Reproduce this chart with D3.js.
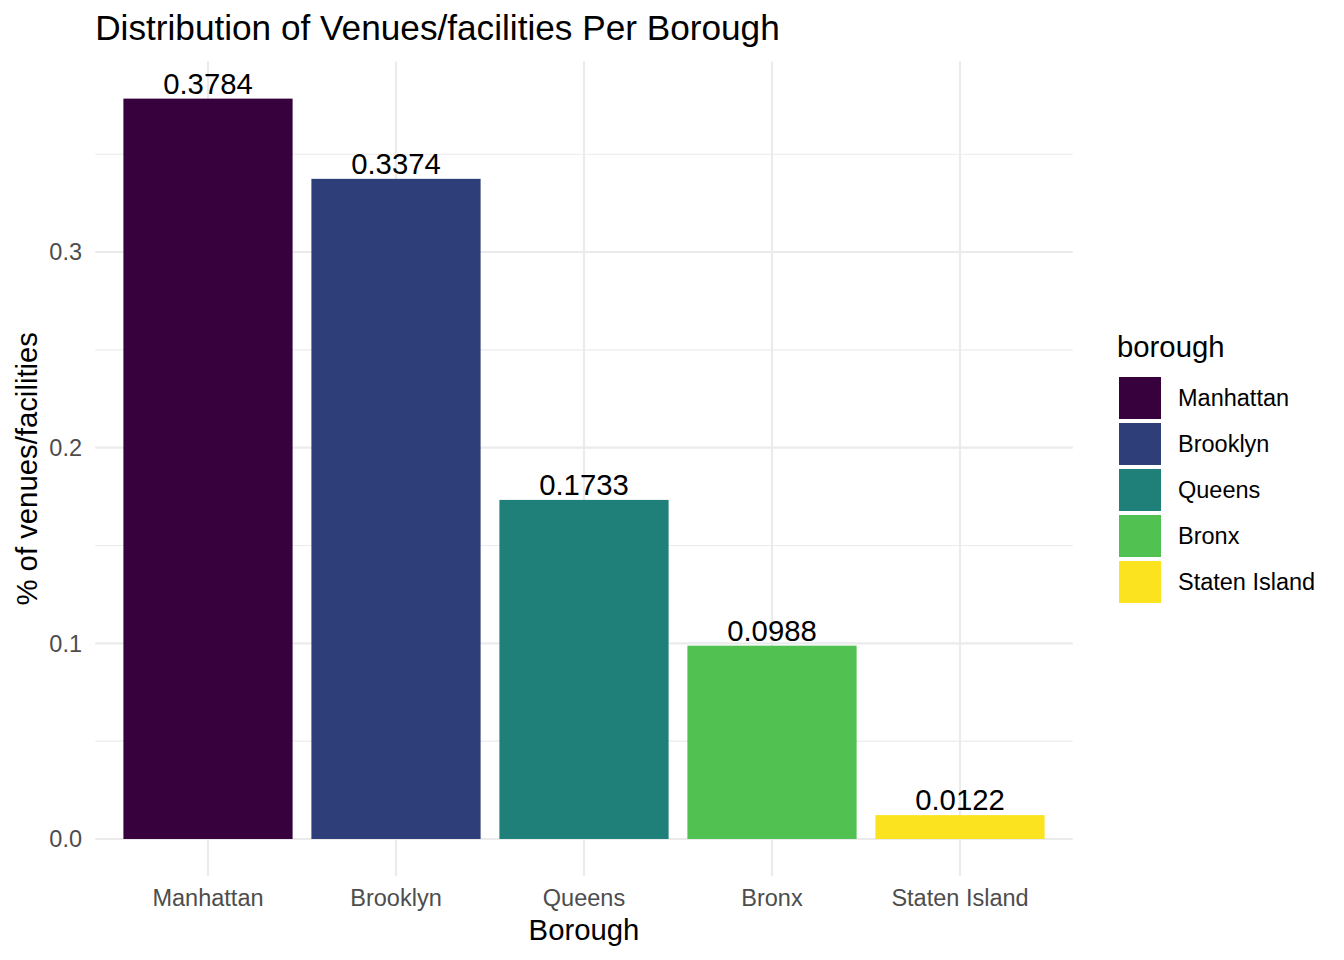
<!DOCTYPE html>
<html>
<head>
<meta charset="utf-8">
<script src="https://cdn.jsdelivr.net/npm/d3@7"></script>
<style>
  html, body { margin: 0; padding: 0; background: #fff; }
  svg { display: block; font-family: "Liberation Sans", Arial, Helvetica, sans-serif; }
</style>
</head>
<body>
<svg id="chart" width="1344" height="960"></svg>
<script>
const categories = ["Manhattan", "Brooklyn", "Queens", "Bronx", "Staten Island"];
const values = [0.3784, 0.3374, 0.1733, 0.0988, 0.0122];
const colors = ["#36013c", "#2e3e78", "#1f807a", "#51c152", "#fce31f"];
const yMajorTicks = [0.0, 0.1, 0.2, 0.3];
const yMinorTicks = [0.05, 0.15, 0.25, 0.35];
const yTickLabels = ["0.0", "0.1", "0.2", "0.3"];

const svg = d3.select("#chart");
const panel = { left: 95.2, right: 1072.8, top: 61.6, bottom: 876 };

const maxV = d3.max(values);
const x = d3.scaleBand().domain(categories)
  .range([panel.left, panel.right]).paddingInner(0.1).paddingOuter(0.15);
const y = d3.scaleLinear().domain([-0.05 * maxV, maxV * 1.05])
  .range([panel.bottom, panel.top]);

const grid = svg.append("g");
grid.selectAll("line.minor").data(yMinorTicks).enter().append("line")
  .attr("x1", panel.left).attr("x2", panel.right)
  .attr("y1", d => y(d)).attr("y2", d => y(d))
  .attr("stroke", "#ebebeb").attr("stroke-width", 1.1);
grid.selectAll("line.major").data(yMajorTicks).enter().append("line")
  .attr("x1", panel.left).attr("x2", panel.right)
  .attr("y1", d => y(d)).attr("y2", d => y(d))
  .attr("stroke", "#ebebeb").attr("stroke-width", 2.2);
grid.selectAll("line.v").data(categories).enter().append("line")
  .attr("y1", panel.top).attr("y2", panel.bottom)
  .attr("x1", d => x(d) + x.bandwidth() / 2).attr("x2", d => x(d) + x.bandwidth() / 2)
  .attr("stroke", "#ebebeb").attr("stroke-width", 2.2);

svg.append("g").selectAll("rect").data(categories).enter().append("rect")
  .attr("x", d => x(d)).attr("width", x.bandwidth())
  .attr("y", (d, i) => y(values[i]))
  .attr("height", (d, i) => y(0) - y(values[i]))
  .attr("fill", (d, i) => colors[i]);

svg.append("g").selectAll("text").data(categories).enter().append("text")
  .attr("x", d => x(d) + x.bandwidth() / 2)
  .attr("y", (d, i) => y(values[i]) - 5)
  .attr("text-anchor", "middle")
  .attr("font-size", 29.3)
  .attr("fill", "#000")
  .text((d, i) => values[i].toFixed(4));

svg.append("g").selectAll("text").data(yMajorTicks).enter().append("text")
  .attr("x", 82).attr("y", d => y(d))
  .attr("dy", "0.36em")
  .attr("text-anchor", "end")
  .attr("font-size", 23.5)
  .attr("fill", "#4d4d4d")
  .text((d, i) => yTickLabels[i]);

svg.append("g").selectAll("text").data(categories).enter().append("text")
  .attr("x", d => x(d) + x.bandwidth() / 2).attr("y", 906)
  .attr("text-anchor", "middle")
  .attr("font-size", 23.5)
  .attr("fill", "#4d4d4d")
  .text(d => d);

svg.append("text")
  .attr("x", (panel.left + panel.right) / 2).attr("y", 940)
  .attr("text-anchor", "middle")
  .attr("font-size", 29.3).attr("fill", "#000")
  .text("Borough");

svg.append("text")
  .attr("transform", `translate(36.5,${(panel.top + panel.bottom) / 2}) rotate(-90)`)
  .attr("text-anchor", "middle")
  .attr("font-size", 29.3).attr("fill", "#000")
  .text("% of venues/facilities");

svg.append("text")
  .attr("x", panel.left).attr("y", 40)
  .attr("font-size", 35.2).attr("fill", "#000")
  .text("Distribution of Venues/facilities Per Borough");

const legend = svg.append("g");
legend.append("text")
  .attr("x", 1117).attr("y", 357)
  .attr("font-size", 29.3).attr("fill", "#000")
  .text("borough");
const items = legend.selectAll("g.item").data(categories).enter().append("g")
  .attr("transform", (d, i) => `translate(1119,${377 + i * 46})`);
items.append("rect").attr("width", 42).attr("height", 42)
  .attr("fill", (d, i) => colors[i]);
items.append("text").attr("x", 59).attr("y", 21).attr("dy", "0.36em")
  .attr("font-size", 23.5).attr("fill", "#000")
  .text(d => d);
</script>
</body>
</html>
